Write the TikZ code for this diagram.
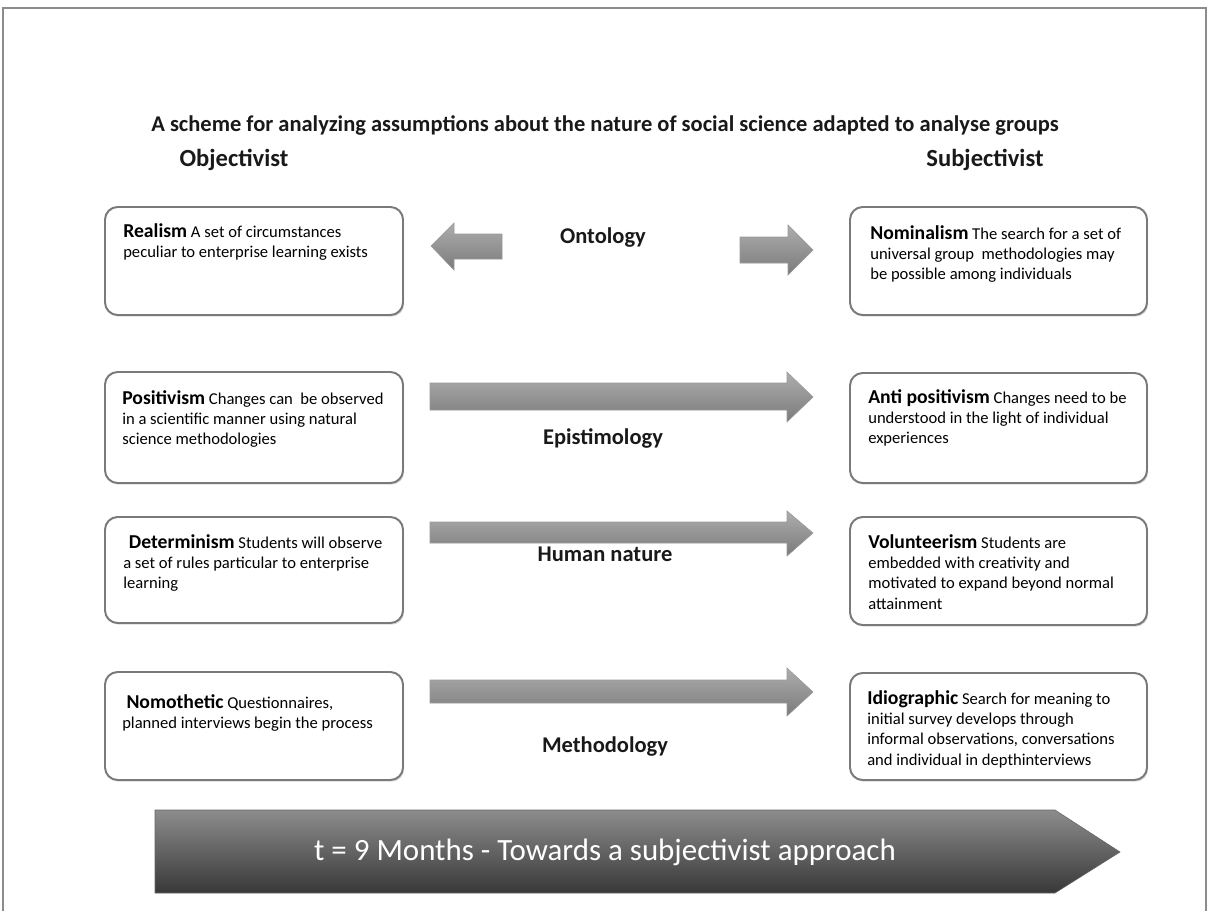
\documentclass[tikz,border=0pt]{standalone}
\usepackage{fontspec}
\setmainfont{Carlito}
\usetikzlibrary{shadows}

\tikzset{
  panel/.style={draw=black!52, line width=1.4pt, rounded corners=9pt, fill=white,
    drop shadow={opacity=0.3, shadow xshift=0.8pt, shadow yshift=-1.2pt}},
  boxtext/.style={anchor=north west, inner sep=0pt, align=left, text=black,
    font=\fontsize{11.8}{14.5}\selectfont},
  axislabel/.style={inner sep=0pt, text=black!90, font=\fontsize{16}{18}\selectfont\bfseries},
  headlabel/.style={inner sep=0pt, text=black!90, font=\fontsize{17.5}{19}\selectfont\bfseries},
  smallarrow/.style={top color=black!32, bottom color=black!52, draw=black!40, line width=0.4pt},
  bigarrow/.style={top color=black!45, bottom color=black!78, draw=black!60, line width=0.4pt},
}
\newcommand{\kw}[1]{{\fontsize{14}{14.5}\selectfont\bfseries #1}}

\begin{document}
\begin{tikzpicture}[x=0.7113pt, y=-0.7113pt]
  \useasboundingbox (0,0) rectangle (1211,911);
  \fill[white] (0,0) rectangle (1211,911);

  % outer frame
  \draw[black!45, line width=0.8pt] (3,911) -- (3,8) -- (1206,8) -- (1206,911);

  % heading and column titles
  \node[inner sep=0pt, text=black!90, font=\fontsize{16}{18}\selectfont\bfseries] (title) at (605,125)
    {A scheme for analyzing assumptions about the nature of social science adapted to analyse groups};
  \node[headlabel] (obj) at (234,160) {Objectivist};
  \node[headlabel] (subj) at (985,160) {Subjectivist};

  % panels, left column
  \path[panel] (105,207) rectangle (403,315);
  \path[panel] (105,372) rectangle (403,483);
  \path[panel] (105,517) rectangle (403,623);
  \path[panel] (105,672) rectangle (403,780);
  % panels, right column
  \path[panel] (850,207) rectangle (1147,315);
  \path[panel] (850,373) rectangle (1147,483);
  \path[panel] (850,517) rectangle (1147,625);
  \path[panel] (850,673) rectangle (1147,780);

  % panel texts, left column
  \node[boxtext] (realism) at (123,223)
    {\kw{Realism} A set of circumstances\\peculiar to enterprise learning exists};
  \node[boxtext] (positivism) at (122,390)
    {\kw{Positivism} Changes can\ \ be observed\\in a scientific manner using natural\\science methodologies};
  \node[boxtext] (determinism) at (123,534)
    {\hspace{4pt}\kw{Determinism} Students will observe\\a set of rules particular to enterprise\\learning};
  \node[boxtext] (nomothetic) at (122,694)
    {\hspace{3pt}\kw{Nomothetic} Questionnaires,\\planned interviews begin the process};

  % panel texts, right column
  \node[boxtext] (nominalism) at (870,225)
    {\kw{Nominalism} The search for a set of\\universal group\ \ methodologies may\\be possible among individuals};
  \node[boxtext] (antipos) at (868,389)
    {\kw{Anti positivism} Changes need to be\\understood in the light of individual\\experiences};
  \node[boxtext] (volunteerism) at (868,534)
    {\kw{Volunteerism} Students are\\embedded with creativity and\\motivated to expand beyond normal\\attainment};
  \node[boxtext] (idiographic) at (867,690)
    {\kw{Idiographic} Search for meaning to\\initial survey develops through\\informal observations, conversations\\and individual in depthinterviews};

  % ontology: two short block arrows pointing outwards
  \shade[smallarrow] (431,246) -- (454,223) -- (454,234) -- (502,234) -- (502,259)
    -- (454,259) -- (454,270) -- cycle;
  \shade[smallarrow] (740,237) -- (788,237) -- (788,225) -- (813,250) -- (788,275)
    -- (788,263) -- (740,263) -- cycle;
  \node[axislabel] (ontology) at (603,238) {Ontology};

  % epistemology, human nature, methodology: long block arrows
  \shade[smallarrow] (430,383) -- (787,383) -- (787,372) -- (813,397) -- (787,422)
    -- (787,410) -- (430,410) -- cycle;
  \node[axislabel] (epist) at (603,438) {Epistimology};

  \shade[smallarrow] (430,522) -- (787,522) -- (787,511) -- (813,533) -- (787,556)
    -- (787,543) -- (430,543) -- cycle;
  \node[axislabel] (human) at (605,554) {Human nature};

  \shade[smallarrow] (430,680) -- (787,680) -- (787,668) -- (813,692) -- (787,716)
    -- (787,703) -- (430,703) -- cycle;
  \node[axislabel] (method) at (605,746) {Methodology};

  % time arrow along the bottom
  \shade[bigarrow] (155,810) -- (1055,810) -- (1120,852) -- (1055,893) -- (155,893) -- cycle;
  \node[inner sep=0pt, text=white, font=\fontsize{22}{24}\selectfont] (time) at (605,852)
    {t = 9 Months - Towards a subjectivist approach};
\end{tikzpicture}
\end{document}
